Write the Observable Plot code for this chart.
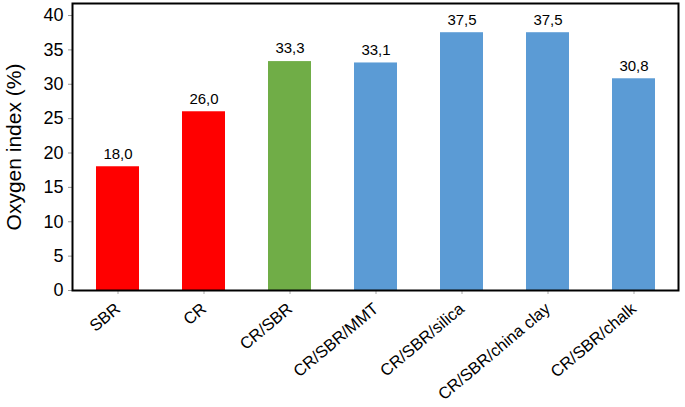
<!DOCTYPE html>
<html>
<head>
<meta charset="utf-8">
<script src="https://cdn.jsdelivr.net/npm/d3@7"></script>
<script src="https://cdn.jsdelivr.net/npm/@observablehq/plot@0.6"></script>
<style>
  body { margin: 0; background: #fff; }
  #chart { position: absolute; left: 0; top: 0; }
</style>
</head>
<body>
<div id="chart"></div>
<script>
const categories = ["SBR", "CR", "CR/SBR", "CR/SBR/MMT", "CR/SBR/silica", "CR/SBR/china clay", "CR/SBR/chalk"];
const values = [18.0, 26.0, 33.3, 33.1, 37.5, 37.5, 30.8];
const groups = ["single", "single", "blend", "filled", "filled", "filled", "filled"];
const groupColors = {single: "#ff0000", blend: "#70ad47", filled: "#5b9bd5"};
const yTicks = [0, 5, 10, 15, 20, 25, 30, 35, 40];
const yLabel = "Oxygen index (%)";

const data = categories.map((c, i) => ({cat: c, value: values[i], group: groups[i]}));
const fmt = v => v.toFixed(1).replace(".", ",");
const font = "Liberation Sans, Arial, Helvetica, sans-serif";

const chart = Plot.plot({
  width: 685,
  height: 407,
  marginLeft: 72,
  marginRight: 7,
  marginTop: 3,
  marginBottom: 117,
  style: {fontFamily: font, background: "#fff", color: "#000"},
  x: {domain: categories, paddingInner: 0.5, paddingOuter: 0.25, axis: null},
  y: {domain: [0, 41.75], axis: null},
  marks: [
    Plot.barY(data, {x: "cat", y: "value", fill: d => groupColors[d.group]}),
    Plot.text(data, {x: "cat", y: "value", text: d => fmt(d.value), dy: -13, fontSize: 15, fill: "#000"}),
    Plot.axisY(yTicks, {tickSize: 4, stroke: "#999", tickPadding: 5, fontSize: 18, fill: "#000", label: null}),
    Plot.axisX({tickSize: 4, stroke: "#aaa", tickRotate: -40, fontSize: 16.5, fill: "#000", tickPadding: 12, label: null}),
    Plot.frame({stroke: "#000", strokeWidth: 2}),
    Plot.text([yLabel], {frameAnchor: "left", dx: -58, rotate: -90, textAnchor: "middle", fontSize: 21, fill: "#000", text: d => d})
  ]
});
document.getElementById("chart").appendChild(chart);
</script>
</body>
</html>
